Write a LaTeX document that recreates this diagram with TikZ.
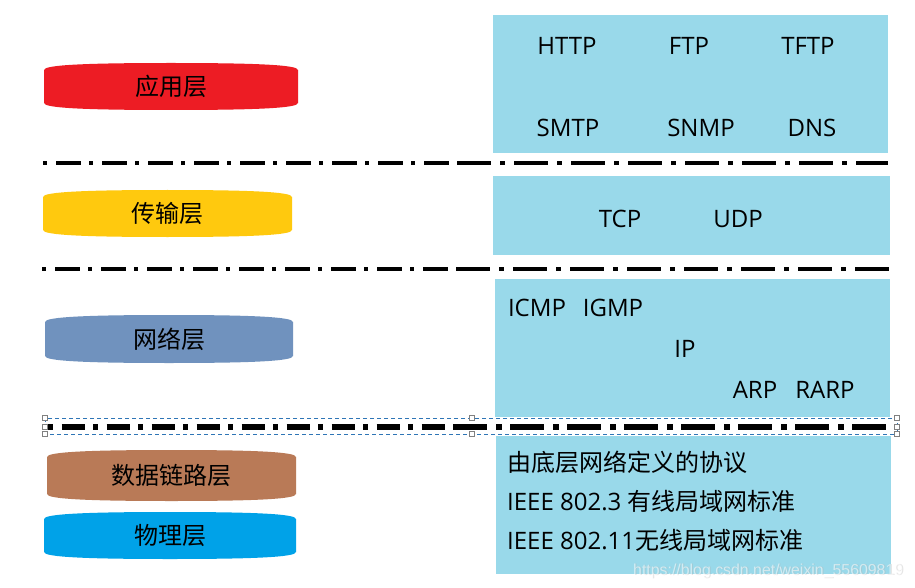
\documentclass[tikz,border=0pt]{standalone}
\usepackage{fontspec}
\setmainfont{Open Sans}
\newfontfamily\cjk{Noto Sans CJK SC}
\newfontfamily\wmfont{Liberation Sans}
\definecolor{cRed}{HTML}{ED1C24}
\definecolor{cYel}{HTML}{FFC90E}
\definecolor{cSteel}{HTML}{7092BE}
\definecolor{cBrown}{HTML}{B97A57}
\definecolor{cBlue}{HTML}{00A2E8}
\definecolor{cLight}{HTML}{99D9EA}
\definecolor{cSel}{HTML}{2E75B6}
\newcommand\layerpill[6]{%
  \fill[#5] (#1,#2+7) .. controls (#1,#2+2) and (#1+40,#2) .. ({(#1+#3)/2},#2)
    .. controls (#3-40,#2) and (#3,#2+2) .. (#3,#2+7) -- (#3,#4-7)
    .. controls (#3,#4-2) and (#3-40,#4) .. ({(#1+#3)/2},#4)
    .. controls (#1+40,#4) and (#1,#4-2) .. (#1,#4-7) -- cycle;
  \node[pilltext] (#6) at ({(#1+#3)/2},{(#2+#4)/2}) {\csname pilltxt#6\endcsname};}
\tikzset{
  pilltext/.style={inner sep=0pt, font=\cjk\fontsize{24}{28}\selectfont},
  proto/.style={anchor=base, inner sep=0pt, font=\fontsize{24}{28}\selectfont},
  desc/.style={anchor=base west, inner sep=0pt, font=\fontsize{24}{28}\selectfont},
  sepA/.style={line width=4pt, dash pattern=on 4pt off 9pt on 25pt off 8pt},
  sepB/.style={line width=4pt, dash pattern=on 34pt off 9pt on 5pt off 9pt},
  sepAt/.style={line width=6pt, dash pattern=on 5pt off 8.5pt on 23pt off 8.5pt},
  sepBt/.style={line width=5.5pt, dash pattern=on 34pt off 9pt on 6pt off 8pt},
  selbox/.style={draw=cSel, line width=0.8pt, dash pattern=on 4pt off 3pt},
  handle/.style={draw=gray, fill=white, line width=0.7pt, minimum size=5pt, inner sep=0pt}
}
\begin{document}
\begin{tikzpicture}[x=1pt,y=-1pt]
\useasboundingbox (0,0) rectangle (915,588);
\fill[white] (0,0) rectangle (915,588);
% right boxes
\fill[cLight] (493,15) rectangle (888,153);
\fill[cLight] (493,176) rectangle (890,255);
\fill[cLight] (495,279) rectangle (890,417);
\fill[cLight] (496,436) rectangle (891,574);
% pills
\def\pilltxtapp{应用层}\def\pilltxttrans{传输层}\def\pilltxtnet{网络层}
\def\pilltxtlink{数据链路层}\def\pilltxtphy{物理层}
\layerpill{44}{63}{298}{110}{cRed}{app}
\layerpill{43}{190}{292}{237}{cYel}{trans}
\layerpill{45}{315}{293}{363}{cSteel}{net}
\layerpill{47}{450}{296}{501}{cBrown}{link}
\layerpill{44}{512}{296}{559}{cBlue}{phy}
% separators
\coordinate (s1a) at (43,163.3); \coordinate (s1m) at (457,163.3); \coordinate (s1b) at (888,163.3);
\coordinate (s2a) at (42,268.5); \coordinate (s2m) at (456,268.5); \coordinate (s2b) at (890,268.5);
\coordinate (s3a) at (48,427); \coordinate (s3m) at (453,427); \coordinate (s3b) at (895,427);
\draw[sepA] (s1a) -- (s1m); \draw[sepB] (s1m) -- (s1b);
\draw[sepA] (s2a) -- (s2m); \draw[sepB] (s2m) -- (s2b);
\draw[sepAt] (s3a) -- (s3m); \draw[sepBt] (s3m) -- (s3b);
% selection box
\draw[selbox] (45,418) rectangle (897,434);
\foreach \hx/\hy/\hn in {45/418/h1,45/427/h2,45/434/h3,472/418/h4,472/434/h5,897/418/h6,897/427/h7,897/434/h8}
  \node[handle] (\hn) at (\hx,\hy) {};
% protocols
\node[proto] (http) at (567,55) {HTTP};
\node[proto] (ftp) at (689,55) {FTP};
\node[proto] (tftp) at (808,55) {TFTP};
\node[proto] (smtp) at (568,137) {SMTP};
\node[proto] (snmp) at (701,137) {SNMP};
\node[proto] (dns) at (812,137) {DNS};
\node[proto] (tcp) at (620,227) {TCP};
\node[proto] (udp) at (738,227) {UDP};
\node[proto] (icmp) at (537,316) {ICMP};
\node[proto] (igmp) at (613,316) {IGMP};
\node[proto] (ip) at (685,357) {IP};
\node[proto] (arp) at (755,398) {ARP};
\node[proto] (rarp) at (825,398) {RARP};
\node[desc] (d1) at (507,471) {\cjk 由底层网络定义的协议};
\node[desc] (d2) at (507,510) {IEEE 802.3 {\cjk 有线局域网标准}};
\node[desc] (d3) at (507,549) {IEEE 802.11{\cjk 无线局域网标准}};
% watermark
\node[anchor=base west, inner sep=0pt, text=gray!60, opacity=0.35] (wms) at (634,575.7) {\resizebox{270pt}{!}{\wmfont https://blog.csdn.net/weixin\_55609819}};
\node[anchor=base west, inner sep=0pt, text=white, opacity=0.55] (wm) at (633,575) {\resizebox{270pt}{!}{\wmfont https://blog.csdn.net/weixin\_55609819}};
\end{tikzpicture}
\end{document}
